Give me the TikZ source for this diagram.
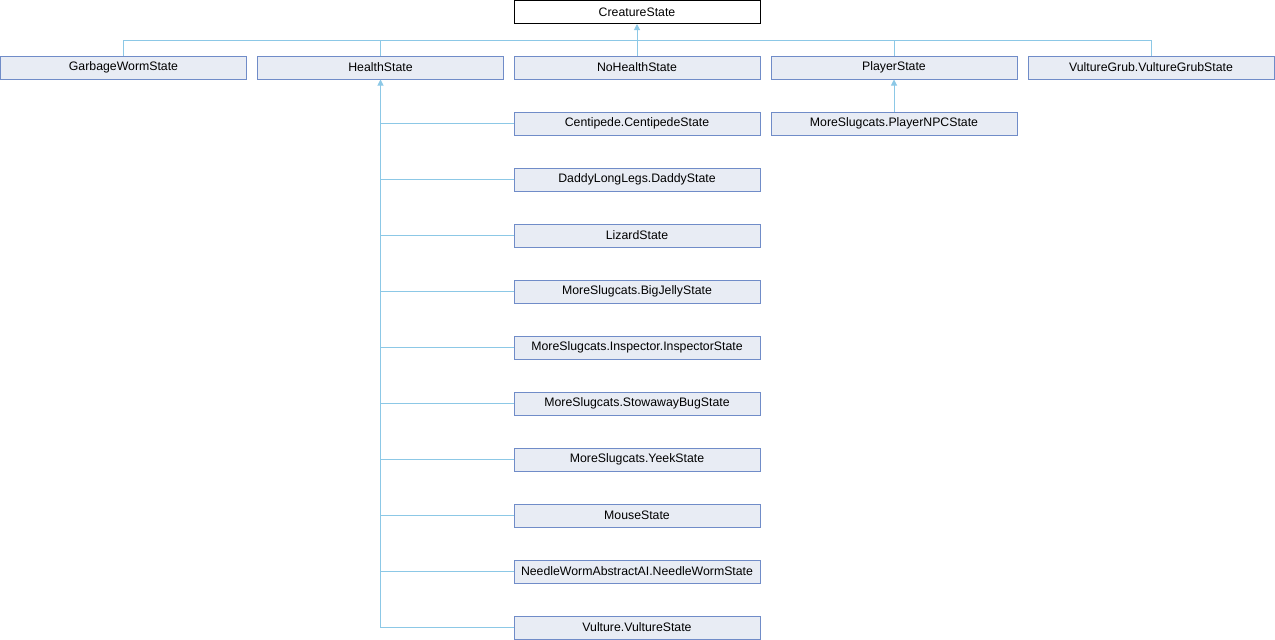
\documentclass[tikz,border=0pt]{standalone}
\usepackage{fontspec}
\setmainfont{Liberation Sans}
\usetikzlibrary{arrows.meta}
\definecolor{boxfill}{RGB}{232,236,244}
\definecolor{boxline}{RGB}{112,140,200}
\definecolor{edgeline}{RGB}{140,200,230}

\begin{document}
\begin{tikzpicture}[x=1pt, y=-1pt,
  cls/.style={draw=boxline, fill=boxfill, line width=1pt, minimum width=246pt,
    minimum height=23pt, inner sep=0pt, font=\fontsize{12.3}{14}\selectfont},
  edge/.style={draw=edgeline, line width=1pt},
  inherit/.style={edge, {Triangle[width=6pt,length=6pt]}-}]

\useasboundingbox (0,0) rectangle (1275,640);

\node[cls, fill=white, draw=black] (creature) at (637,12) {CreatureState};

% first row
\node[cls] (garbage) at (123.5,67.5) {GarbageWormState};
\node[cls] (health) at (380.5,67.5) {HealthState};
\node[cls] (nohealth) at (637,67.5) {NoHealthState};
\node[cls] (player) at (894,67.5) {PlayerState};
\node[cls] (vgrub) at (1151,67.5) {VultureGrub.VultureGrubState};

\coordinate (bus) at (637,40.5);
\draw[edge] (garbage.north) |- (bus) -| (vgrub.north);
\draw[edge] (health.north) -- (health.north |- bus);
\draw[edge] (player.north) -- (player.north |- bus);
\draw[inherit] (creature.south) -- (nohealth.north);

% player npc
\node[cls] (playernpc) at (894,123.5) {MoreSlugcats.PlayerNPCState};
\draw[inherit] (player.south) -- (playernpc.north);

% health subclasses
\foreach \name [count=\i from 0] in {Centipede.CentipedeState, DaddyLongLegs.DaddyState,
    LizardState, MoreSlugcats.BigJellyState, MoreSlugcats.Inspector.InspectorState,
    MoreSlugcats.StowawayBugState, MoreSlugcats.YeekState, MouseState,
    NeedleWormAbstractAI.NeedleWormState, Vulture.VultureState}
{
  \node[cls] (sub\i) at (637,123.5+56*\i) {\name};
  \draw[edge] (sub\i.west) -- (sub\i.west -| health.south);
}
\draw[inherit] (health.south) -- (health.south |- sub9.west);

\end{tikzpicture}
\end{document}
